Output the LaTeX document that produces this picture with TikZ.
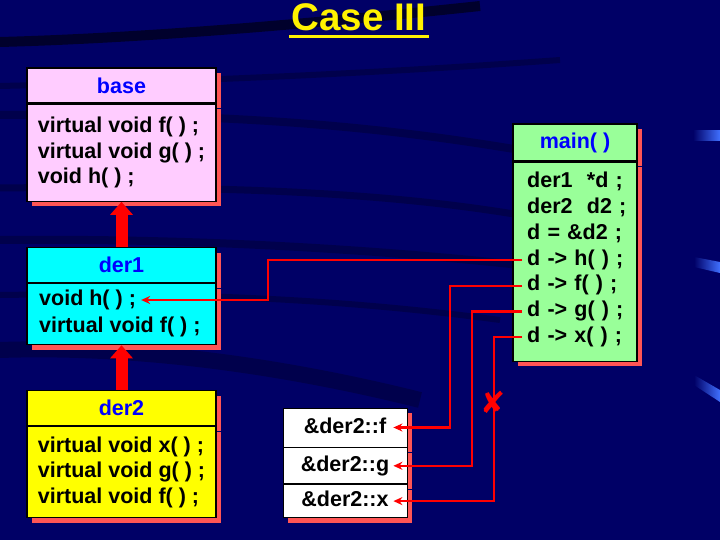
\documentclass[tikz,border=0pt]{standalone}
\usepackage{fontspec}
\setmainfont{Liberation Sans}
\newfontfamily\dingfont{DejaVu Sans}
\usetikzlibrary{arrows.meta,positioning,shadows}

\definecolor{slidebg}{RGB}{0,0,102}
\definecolor{swoosh}{RGB}{0,0,38}
\definecolor{glint}{RGB}{64,112,255}
\definecolor{shadowred}{RGB}{255,85,85}
\definecolor{basepink}{RGB}{255,204,255}
\definecolor{dercyan}{RGB}{0,255,255}
\definecolor{deryellow}{RGB}{255,255,0}
\definecolor{maingreen}{RGB}{153,255,153}
\definecolor{namecol}{RGB}{0,0,255}

\newcommand{\codefont}{\bfseries\fontsize{21.5}{25.7}\selectfont}

\tikzset{
  redshadow/.style={drop shadow={shadow xshift=5pt, shadow yshift=-5pt,
      fill=shadowred, opacity=1}},
  classname/.style={rectangle, draw, line width=1.2pt, redshadow,
    minimum width=189pt, minimum height=35pt, inner sep=0pt,
    font=\codefont, text=namecol},
  classbody/.style={rectangle, draw, line width=1.2pt, redshadow,
    minimum width=189pt, align=left, font=\codefont},
  codeline/.style={anchor=west, inner xsep=5pt, inner ysep=0pt,
    text height=15pt, text depth=5pt, font=\codefont},
  vtrow/.style={rectangle, draw, line width=0.8pt, fill=white, redshadow,
    minimum width=124pt, inner sep=0pt, text height=15pt, text depth=4pt,
    font=\codefont},
  isa/.style={draw=red, line width=12pt, -{Triangle[length=13pt,width=22pt]}},
  vptr/.style={draw=red, line width=2.5pt, ->}
}

\begin{document}
\begin{tikzpicture}[x=1pt, y=-1pt, >={Stealth[length=9pt,width=8pt]},
    node distance=25.7pt]

  % slide background
  \fill[slidebg] (0,0) rectangle (720,540);
  \useasboundingbox (0,0) rectangle (720,540);
  \begin{scope}[swoosh, opacity=.4]
    \draw[line width=10pt, opacity=.9] (0,42) .. controls (150,38) and (330,22) .. (480,6);
    \draw[line width=6pt] (0,86) .. controls (250,80) and (420,70) .. (560,60);
    \draw[line width=8pt] (0,115) .. controls (250,112) and (400,130) .. (520,150);
    \draw[line width=7pt] (0,188) .. controls (250,185) and (400,195) .. (520,215);
    \draw[line width=8pt] (0,240) .. controls (200,238) and (380,250) .. (520,265);
    \draw[line width=6pt] (0,295) .. controls (200,292) and (350,300) .. (500,320);
    \draw[line width=16pt] (0,350) .. controls (150,345) and (300,370) .. (420,400);
  \end{scope}
  \shade[left color=slidebg, right color=glint] (693,131) rectangle (720,141);
  \shade[left color=slidebg, right color=glint] (694,257) -- (720,262) -- (720,273) -- (694,267) -- cycle;
  \shade[left color=slidebg, right color=glint] (694,375) -- (720,390) -- (720,402) -- (694,385) -- cycle;

  % title
  \node[font=\bfseries\fontsize{38.5}{40}\selectfont, text=yellow, inner sep=0pt,
    anchor=base] (title) at (359,31) {Case III};
  \draw[yellow, line width=3pt] ([xshift=-2pt,yshift=-6pt]title.base west)
    -- ([xshift=2pt,yshift=-6pt]title.base east);

  % base
  \node[classname, fill=basepink] (basename) at (121.5,85.5) {base};
  \node[classbody, fill=basepink, below=0pt of basename, minimum height=97pt]
    (basebody) {virtual void f( ) ;\\virtual void g( ) ;\\void h( ) ;};

  % der1
  \node[classname, fill=dercyan] (der1name) at (121.5,265) {der1};
  \node[classbody, fill=dercyan, below=0pt of der1name, minimum height=61pt]
    (der1body) {};
  \node[codeline] (der1h) at (34,300) {void h( ) ;};
  \node[codeline] (der1f) at (34,327) {virtual void f( ) ;};

  % der2
  \node[classname, fill=deryellow] (der2name) at (121.5,408) {der2};
  \node[classbody, fill=deryellow, below=0pt of der2name, minimum height=91pt]
    (der2body) {virtual void x( ) ;\\virtual void g( ) ;\\virtual void f( ) ;};

  \draw[isa] (der1name.north) -- (basebody.south);
  \draw[isa] (der2name.north) -- (der1body.south);

  % main( )
  \node[classname, fill=maingreen, minimum width=124pt, minimum height=37pt]
    (mainname) at (575,142.5) {main( )};
  \node[classbody, fill=maingreen, minimum width=124pt,
    below=0pt of mainname, minimum height=199pt] (mainbody) {};
  \node[codeline, text width=100pt] (maind) at (522,183) {der1\ \ *d ;};
  \node[codeline, text width=100pt, below of=maind] (maind2) {der2\ \ d2 ;};
  \node[codeline, text width=100pt, below of=maind2] (mainaddr) {d = \&d2 ;};
  \node[codeline, text width=100pt, below of=mainaddr] (mainh) {d -> h( ) ;};
  \node[codeline, text width=100pt, below of=mainh] (mainf) {d -> f( ) ;};
  \node[codeline, text width=100pt, below of=mainf] (maing) {d -> g( ) ;};
  \node[codeline, text width=100pt, below of=maing] (mainx) {d -> x( ) ;};

  % vtable of der2
  \node[vtrow, minimum height=39pt] (vtf) at (345,427.5) {\&der2::f};
  \node[vtrow, minimum height=36pt, below=0pt of vtf] (vtg) {\&der2::g};
  \node[vtrow, minimum height=33pt, below=0pt of vtg] (vtx) {\&der2::x};

  \draw[vptr] (mainh.west) -- ++(-254,0) |- (der1h.east);
  \draw[vptr] (mainf.west) -- ++(-72,0) |- ([xshift=-14pt]vtf.east);
  \draw[vptr] (maing.west) -- ++(-50,0) |- ([xshift=-14pt]vtg.east);
  \draw[vptr] (mainx.west) -- ++(-28,0) |- ([xshift=-14pt]vtx.east);

  \node[text=red, font=\dingfont\fontsize{30}{30}\selectfont, inner sep=0pt]
    (cross) at (493,402) {✘};

\end{tikzpicture}
\end{document}
